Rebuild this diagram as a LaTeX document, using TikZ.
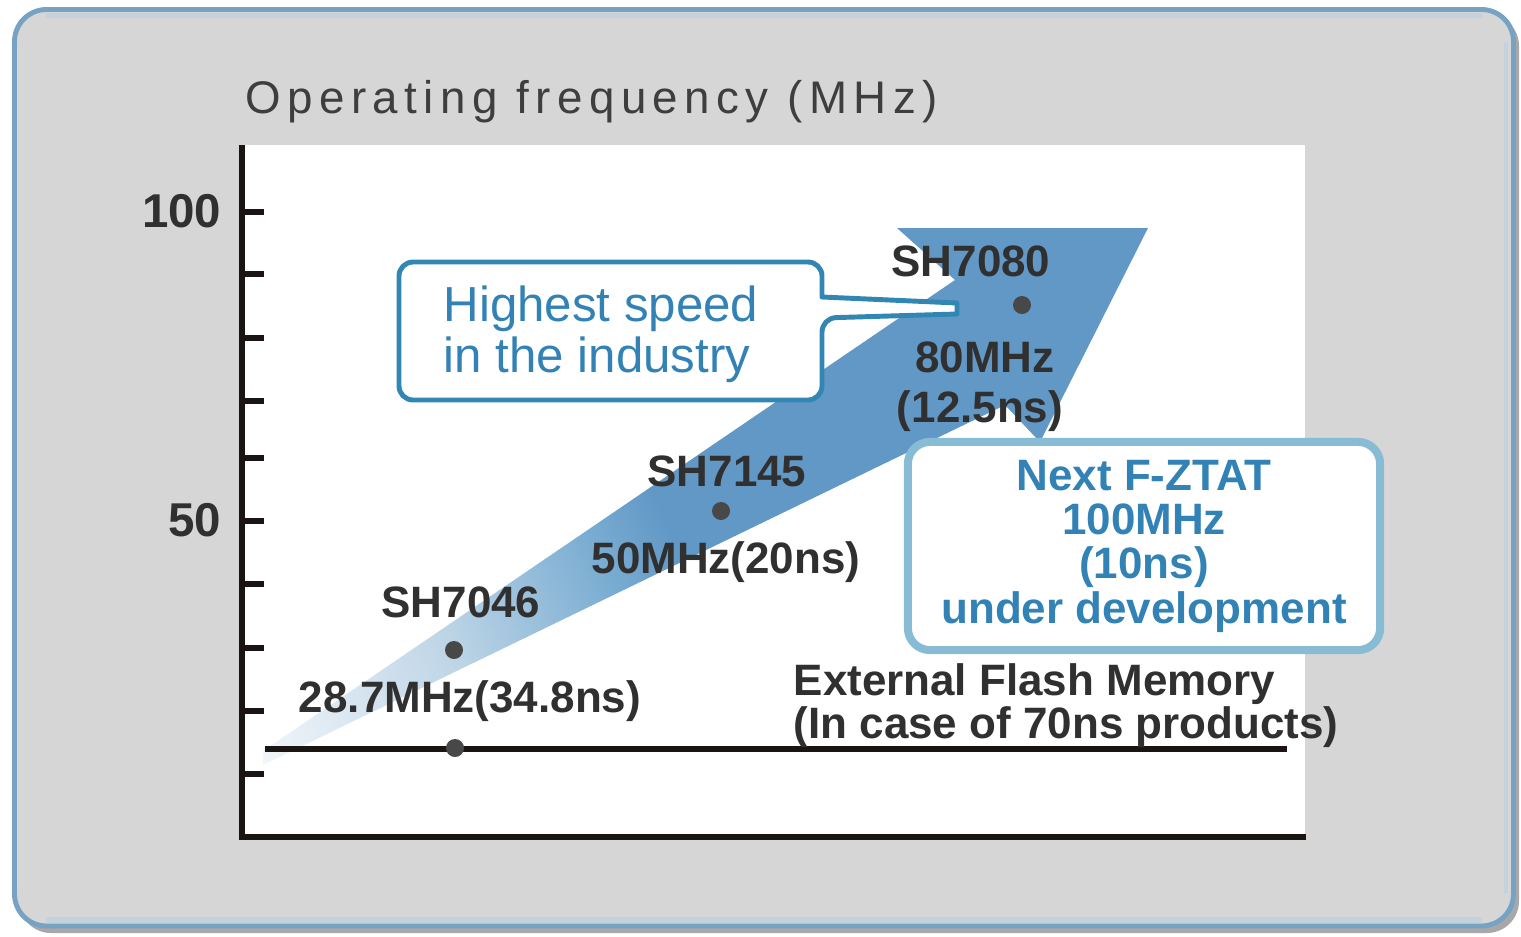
\documentclass[tikz,border=0pt]{standalone}
\usepackage{fontspec}
\setmainfont{Liberation Sans}
\definecolor{framefill}{RGB}{214,214,214}
\definecolor{frameblue}{RGB}{118,162,196}
\definecolor{framelight}{RGB}{196,210,222}
\definecolor{shadowgray}{RGB}{168,168,168}
\definecolor{axisblack}{RGB}{26,21,18}
\definecolor{labelgray}{RGB}{48,48,48}
\definecolor{titlegray}{RGB}{62,62,62}
\definecolor{dotgray}{RGB}{72,72,72}
\definecolor{arrowblue}{RGB}{98,152,198}
\definecolor{arrowmid}{RGB}{122,173,210}
\definecolor{arrowlight}{RGB}{190,213,230}
\definecolor{arrowpale}{RGB}{242,246,250}
\definecolor{calloutblue}{RGB}{50,134,180}
\definecolor{boxtwoblue}{RGB}{136,187,212}
\definecolor{textblue}{RGB}{50,130,182}
\pgfdeclarehorizontalshading{bandshade}{100bp}{color(0bp)=(arrowpale); color(17bp)=(arrowpale); color(31bp)=(arrowlight); color(42bp)=(arrowmid); color(47bp)=(arrowblue); color(100bp)=(arrowblue)}
\begin{document}
\begin{tikzpicture}[x=0.01cm, y=-0.01cm,
  axisline/.style={draw=axisblack, line width=1.7pt},
  axistick/.style={draw=axisblack, line width=1.7pt},
  ticklabel/.style={font=\bfseries\fontsize{13.5}{16}\selectfont, text=labelgray, anchor=base east, inner sep=0pt},
  chiplabel/.style={font=\bfseries\fontsize{12.5}{15}\selectfont, text=labelgray, anchor=base, inner sep=0pt},
  memlabel/.style={font=\bfseries\fontsize{12.5}{15}\selectfont, text=labelgray, anchor=base west, inner sep=0pt},
  datadot/.style={circle, fill=dotgray, minimum size=0.18cm, inner sep=0pt},
  calloutline/.style={draw=calloutblue, line width=1.4pt, fill=white, line join=round},
]
\useasboundingbox (0,0) rectangle (1521,936);
% frame
\fill[shadowgray, rounded corners=0.32cm] (19,14) rectangle (1519,933);
\draw[frameblue, fill=framefill, line width=1.4pt, rounded corners=0.32cm] (14.5,9.5) rectangle (1513.5,926);
\draw[framelight, line width=1.6pt] (46,15.5) -- (1482,15.5);
\draw[framelight, line width=1.6pt] (46,920) -- (1482,920);
\draw[framelight, line width=1.4pt] (1506,42) -- (1506,893);
% title
\node[anchor=base west, inner sep=0pt, text=titlegray, font=\fontsize{13}{16}\selectfont\addfontfeature{LetterSpace=14}] (title) at (245,113) {Operating frequency (MHz)};
% plot area
\fill[white] (242,145) rectangle (1305,836);
% arrow band
\shade[shading=bandshade, shading angle=23] (263,765) -- (263,751) -- (955,280) -- (897,228) -- (1148,228) -- (1040,442) -- (1005,405) -- cycle;
% external memory baseline
\draw[axisline] (265,749) -- (1287,749);
% axes
\draw[axisline] (242,145) -- (242,836.5) -- (1306,836.5);
\foreach \ty in {212,274,338,401,458,521,584,648,711,774}
  \draw[axistick] (242,\ty) -- (264,\ty);
\node[ticklabel] (lab100) at (222,227) {100};
\node[ticklabel] (lab50) at (222,536) {50};
% dots
\node[datadot] (dotmem) at (455,748) {};
\node[datadot] (dotA) at (454,650) {};
\node[datadot] (dotB) at (721,511) {};
\node[datadot] (dotC) at (1022,305) {};
% labels
\node[chiplabel] (chipC) at (971,276) {SH7080};
\node[chiplabel] (freqC) at (985,372) {80MHz};
\node[chiplabel] (nsC) at (980,422) {(12.5ns)};
\node[chiplabel] (chipB) at (727,486) {SH7145};
\node[chiplabel] (freqB) at (726,573) {50MHz(20ns)};
\node[chiplabel] (chipA) at (461,617) {SH7046};
\node[chiplabel] (freqA) at (470,712) {28.7MHz(34.8ns)};
\node[memlabel] (memA) at (793,695) {External Flash Memory};
\node[memlabel] (memB) at (793,738) {(In case of 70ns products)};
% callout 1
\draw[calloutline] (822,297) [rounded corners=0.14cm] -- (822,262) -- (399,262) -- (399,400) -- (822,400) -- (822,318) [sharp corners] -- (957,314) -- (957,303) -- cycle;
\node[anchor=west, inner sep=0pt, align=left, text=textblue, font=\fontsize{14}{14.5}\selectfont] (hstext) at (443,334) {Highest speed\\in the industry};
% callout 2
\node[draw=boxtwoblue, line width=2.28pt, fill=white, rounded corners=0.22cm, minimum width=4.72cm, minimum height=2.08cm, align=center, text=textblue, font=\bfseries\fontsize{12.5}{12.6}\selectfont, inner sep=0pt] (nextbox) at (1144,546) {Next F-ZTAT\\100MHz\\(10ns)\\under development};
\end{tikzpicture}
\end{document}
